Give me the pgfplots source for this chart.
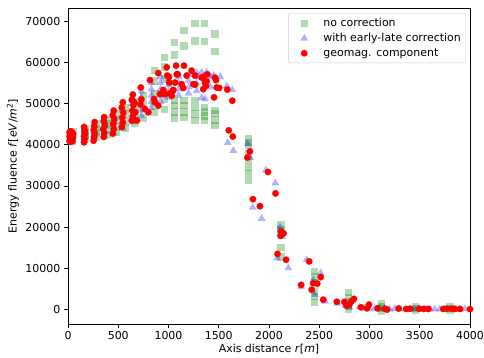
\documentclass[border=0pt]{standalone}
\usepackage{fontspec}
\setmainfont{DejaVu Sans}
\usepackage{pgfplots}
\pgfplotsset{compat=1.18}
\definecolor{mplgreen}{rgb}{0,0.502,0}
\definecolor{mplblue}{rgb}{0,0,1}
\pgfplotsset{mylegend/.style={legend image code/.code={\path (-12.5bp,0bp) (17bp,0bp); \draw[##1] plot coordinates {(0bp,0bp)};}}}
\begin{document}
\fontsize{11}{13.2}\selectfont
\begin{tikzpicture}
\begin{axis}[name=ax, scale only axis, width=402bp, height=316bp,
  xmin=0, xmax=4000, ymin=-3500, ymax=73200,
  xtick={0,500,...,4000}, ytick={0,10000,...,70000},
  scaled ticks=false, /pgf/number format/1000 sep={},
  /pgf/number format/assume math mode=true,
  tick align=outside, xtick pos=left, ytick pos=left,
  major tick length=3.9bp, tick style={line width=0.85bp, black},
  axis line style={line width=0.85bp},
  xlabel={Axis distance \textit{r}[\textit{m}]},
  ylabel={Energy fluence \textit{f}[\textit{eV}/\textit{m}\textsuperscript{2}]},
  every axis x label/.style={at={(axis description cs:0.5,0)}, yshift=-25bp, anchor=center},
  every axis y label/.style={at={(axis description cs:0,0.5)}, xshift=-55bp, rotate=90, anchor=center},
  legend style={at={(axis description cs:0.99,0.984)}, anchor=north east, draw=black!20, rounded corners=2bp, fill=white, row sep=1.2bp, inner xsep=3bp, inner ysep=3bp, font=\fontsize{11}{13.2}\selectfont},
  legend cell align=left,
]
\addplot[only marks, mylegend, mark=square*, color=mplgreen, mark size=3.7bp, mark options={fill=mplgreen, draw opacity=0, fill opacity=0.3}] coordinates {
(30,41000)(30,41800)(30,42500)(50,43100)(45,40800)
(170,41500)(170,42300)(170,43200)(170,44000)
(280,42000)(280,43000)(280,44000)(280,45000)
(390,42500)(390,43800)(390,45000)(390,46000)
(480,43000)(480,44500)(480,46000)(480,47500)
(570,44000)(570,45500)(570,47500)(570,49000)
(667,45100)(667,47100)(667,49000)(667,50500)
(749,46500)(749,48500)(749,50000)(749,52000)
(860,48000)(860,50000)(860,52500)(860,55500)(860,58000)
(962,48500)(962,51000)(962,56000)(962,58900)(962,61200)
(1062,46500)(1062,48000)(1062,49500)(1062,50700)(1062,61800)(1062,64800)
(1154,46600)(1154,48000)(1154,49500)(1154,50700)(1154,64000)(1154,67800)
(1264,45900)(1264,47500)(1264,49000)(1264,50700)(1264,65200)(1264,69500)
(1360,45900)(1360,47000)(1360,48000)(1360,49000)(1360,65000)(1360,69500)
(1463,44700)(1463,46000)(1463,47600)(1463,48300)(1463,62600)(1463,66900)
(1795,41500)(1795,40600)(1795,39800)(1795,37900)(1795,36300)(1795,34500)(1795,33000)(1795,31400)
(2120,20500)(2120,19500)(2120,18500)(2120,15000)(2120,12800)
(2450,9200)(2450,8000)(2450,6500)(2450,4500)(2450,3200)(2450,1700)
(2790,4100)(2790,3000)(2790,2000)(2790,1000)(2790,0)
(3120,1500)(3120,800)(3120,200)(3120,-300)
(3460,600)(3460,200)(3460,-200)
(3800,600)(3800,200)(3800,-200)
};
\addlegendentry{no correction}
\addplot[only marks, mylegend, mark=triangle*, color=mplblue, mark size=4.5bp, mark options={fill=mplblue, draw opacity=0, fill opacity=0.3}] coordinates {
(30,41200)(30,41800)(30,42400)
(165,41000)(165,41800)(165,42600)(165,43400)
(265,41500)(265,42500)(265,43500)(265,44500)
(365,42000)(365,43200)(365,44400)(365,45600)
(455,42800)(455,44200)(455,45600)(455,47000)
(545,44000)(545,45500)(545,47000)(545,48500)
(640,45500)(640,47000)(640,48500)(640,50000)(640,51500)
(730,47000)(730,48500)(730,50000)(730,51500)(730,53000)
(830,49000)(830,50500)(830,52000)(830,53500)(830,55000)
(920,50500)(920,52000)(920,53500)(920,55000)(920,56500)
(1000,51500)(1000,53000)(1000,54500)(1000,56000)
(1100,52000)(1100,53500)(1100,55000)(1100,56500)
(1200,52500)(1200,54000)(1200,55500)(1200,57000)
(1280,53100)(1280,55000)(1280,56500)(1280,57500)
(1330,51400)(1330,57600)(1365,51100)(1365,55500)(1380,57600)
(1420,54000)(1420,56500)(1450,56800)(1515,56500)(1580,54300)(1635,53300)
(1589,40500)(1645,38600)(1788,40200)(1811,36900)(1967,33800)(2063,30700)
(1837,24800)(1927,22100)(2110,20000)(2133,17700)(2083,12500)(2192,10100)
(2375,12100)(2319,5500)(2441,7200)(2458,3600)(2514,8900)(2557,2000)
(2680,1500)(2760,1000)(2800,500)(2830,2200)(2900,600)(2950,300)(2990,400)
(3050,200)(3100,300)(3150,200)(3200,100)(3250,200)(3300,200)(3400,150)
(3450,150)(3500,200)(3550,100)(3600,150)(3650,100)(3700,100)(3750,200)
(3800,150)(3850,100)(3900,100)(3950,150)
};
\addlegendentry{with early-late correction}
\addplot[only marks, mylegend, mark=*, color=red, mark size=3.25bp, mark options={fill=red, draw=red, line width=0.2bp}] coordinates {
(15,41000)(15,42000)(15,43000)(25,40700)(25,41500)(25,42500)(25,43300)
(35,41200)(35,42200)(40,43000)(45,40900)(50,41800)(50,42700)
(160,40600)(165,41400)(160,42100)(170,42800)(165,43500)(160,44300)
(255,41000)(260,41900)(265,42700)(255,43600)(260,44500)(265,45500)
(355,41900)(360,42800)(350,43800)(365,44700)(355,45700)(360,46700)
(445,42700)(455,43800)(450,45000)(460,46100)(445,47200)(455,48300)
(535,44300)(545,45400)(540,46600)(550,47800)(535,49000)(545,50300)
(635,45900)(645,47000)(640,48300)(650,49600)(635,50900)(645,52200)
(686,45900)(670,47900)(660,50300)
(725,53900)(730,51000)(765,48700)(800,47900)(720,49800)
(816,55700)(856,51100)(866,50300)(898,57400)(898,49500)
(948,53300)(965,52300)(982,58800)(988,56800)(1008,55100)(1032,51900)
(1048,53300)(1075,59200)(1082,57100)(1131,54700)(1154,59200)(1181,56800)
(1231,58000)(1247,54700)(1264,56800)(1330,56300)(1363,55100)(1386,57100)
(1373,54300)(1463,56300)(1480,53900)
(1005,56500)(1092,57100)(1346,56500)(1065,55100)(1380,55400)(1473,55700)
(1042,53100)(1147,53800)(1264,54600)(1346,53500)(1505,53800)(1585,53400)
(915,52300)(1015,52500)(1453,51500)(1635,50700)
(1600,43500)(1640,42000)(1810,38400)(1785,36900)(1990,33400)(2065,28200)
(1840,26800)(1910,25100)(2120,19000)(2145,18500)(2115,17900)
(2085,13500)(2170,12100)(2400,11700)(2320,6000)(2425,4800)(2440,6400)
(2480,6300)(2515,7900)(2540,2400)(2675,1900)
(2750,1850)(2770,950)(2800,1200)(2820,2000)(2845,2600)
(2915,550)(2975,300)(2995,1200)(3080,300)(3155,200)(3175,0)(3290,250)
(3365,150)(3405,200)(3495,200)(3540,150)(3585,150)(3735,150)(3770,200)
(3820,200)(3850,150)(3900,150)(4000,100)
};
\addlegendentry{geomag. component}
\end{axis}
\pgfresetboundingbox
\path[use as bounding box] ([shift={(-68bp,-34bp)}]ax.south west) rectangle ([shift={(14bp,8bp)}]ax.north east);
\end{tikzpicture}
\end{document}
